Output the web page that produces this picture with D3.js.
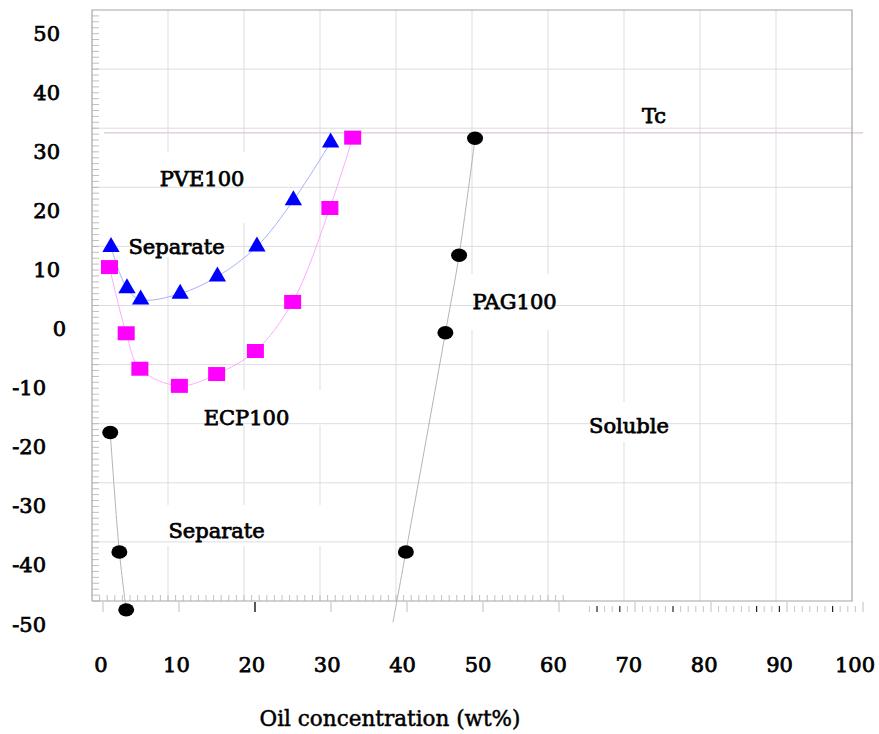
<!DOCTYPE html>
<html>
<head>
<meta charset="utf-8">
<script src="https://cdn.jsdelivr.net/npm/d3@7"></script>
<style>
  html, body { margin: 0; padding: 0; background: #fff; }
  svg { display: block; }
  text { font-family: "DejaVu Serif", serif; fill: #000; }
</style>
</head>
<body>
<svg id="chart" width="879" height="734"></svg>
<script>
// Phase-separation temperatures of refrigerant / oil mixtures
const xTicks = [0, 10, 20, 30, 40, 50, 60, 70, 80, 90, 100];
const yTicks = [50, 40, 30, 20, 10, 0, -10, -20, -30, -40, -50];

// PVE100 (triangles)
const pveX = [2.5, 4.6, 6.4, 11.6, 16.5, 21.7, 26.5, 31.4];
const pveY = [9.9, 2.9, 1.0, 2.0, 4.9, 10.0, 17.8, 27.6];

// ECP100 (squares, upper boundary)
const ecpX = [2.3, 4.5, 6.3, 11.5, 16.4, 21.5, 26.4, 31.3, 34.3];
const ecpY = [6.5, -4.7, -10.7, -13.6, -11.6, -7.7, 0.6, 16.5, 28.4];

// lower boundary, black circles near the left edge
const lowX = [2.4, 3.6, 4.5];
const lowY = [-21.5, -41.7, -51.5];

// PAG100 (black circles) and the end of its boundary line
const pagX = [50.4, 48.3, 46.5, 41.3];
const pagY = [28.3, 8.5, -4.6, -41.7];
const pagTailX = [39.6];
const pagTailY = [-53.6];

// critical temperature line
const tcValue = 29.2;

const svg = d3.select("#chart");
const x = d3.scaleLinear().domain([0, 100]).range([92, 852]);
const y = d3.scaleLinear().domain([-50, 50]).range([601, 10]);
// tick labels sit slightly right of / below their grid lines
const xLab = d3.scaleLinear().domain([0, 100]).range([101, 855]);

const gridColor = "#dddddd";
const frameColor = "#a6a6a6";

// vertical grid lines
svg.append("g").selectAll("line")
  .data(xTicks.slice(1, -1))
  .join("line")
  .attr("x1", d => x(d)).attr("x2", d => x(d))
  .attr("y1", y(50)).attr("y2", y(-50))
  .attr("stroke", gridColor).attr("stroke-width", 1);

// white label boxes interrupt the vertical grid lines
const boxes = [
  [150, 152, 105, 71],   // PVE100
  [120, 223, 120, 34],   // Separate (upper)
  [190, 390, 145, 35],   // ECP100
  [150, 505, 190, 41],   // Separate (lower)
  [462, 274, 130, 56],   // PAG100
  [580, 402, 100, 40]    // Soluble
];
svg.append("g").selectAll("rect")
  .data(boxes)
  .join("rect")
  .attr("x", d => d[0]).attr("y", d => d[1])
  .attr("width", d => d[2]).attr("height", d => d[3])
  .attr("fill", "#fff");

// horizontal grid lines
svg.append("g").selectAll("line")
  .data(yTicks.slice(1, -1))
  .join("line")
  .attr("x1", x(0)).attr("x2", x(100))
  .attr("y1", d => y(d)).attr("y2", d => y(d))
  .attr("stroke", gridColor).attr("stroke-width", 1);

// Tc line
svg.append("line")
  .attr("x1", x(0) + 12).attr("x2", x(100) + 11)
  .attr("y1", y(tcValue)).attr("y2", y(tcValue))
  .attr("stroke", "#dcc6dc").attr("stroke-width", 1.2);

// frame
svg.append("path")
  .attr("d", `M${x(0)},${y(-50)}V${y(50)}H${x(100)}V${y(-50)}H${x(0)}`)
  .attr("fill", "none").attr("stroke", frameColor).attr("stroke-width", 1.2);

// minor ticks on the left edge (every 1 degree, pointing inward)
const yMinor = d3.range(-50, 50, 1);
svg.append("g").selectAll("line")
  .data(yMinor)
  .join("line")
  .attr("x1", x(0)).attr("x2", x(0) + 7)
  .attr("y1", d => y(d)).attr("y2", d => y(d))
  .attr("stroke", "#b0b0b0").attr("stroke-width", 0.8);

// minor ticks on the bottom edge: upward on the left part, below the edge on the right part
const xMinorUp = d3.range(1, 63, 1);
svg.append("g").selectAll("line")
  .data(xMinorUp)
  .join("line")
  .attr("x1", d => x(d)).attr("x2", d => x(d))
  .attr("y1", y(-50)).attr("y2", y(-50) - 6)
  .attr("stroke", "#b0b0b0").attr("stroke-width", 0.8);

const darkMinor = [65, 68, 75, 86, 89, 96];
const xMinorDown = d3.range(64, 101, 1).filter(d => d % 10 !== 0);
svg.append("g").selectAll("line")
  .data(xMinorDown)
  .join("line")
  .attr("x1", d => x(d) + 11).attr("x2", d => x(d) + 11)
  .attr("y1", y(-50) + 5).attr("y2", y(-50) + 11)
  .attr("stroke", d => darkMinor.includes(d) ? "#222" : "#b8b8b8")
  .attr("stroke-width", d => darkMinor.includes(d) ? 1.2 : 0.8);

// major ticks below the bottom edge
svg.append("g").selectAll("line")
  .data(xTicks)
  .join("line")
  .attr("x1", d => x(d) + 11).attr("x2", d => x(d) + 11)
  .attr("y1", y(-50) + 1).attr("y2", y(-50) + 11)
  .attr("stroke", d => d === 20 ? "#000" : "#c0c0c0")
  .attr("stroke-width", d => d === 20 ? 1.3 : 1);

// tick labels
const labelStyle = sel => sel
  .attr("font-size", 21)
  .attr("stroke", "#000").attr("stroke-width", 0.75);

svg.append("g").selectAll("text")
  .data(yTicks)
  .join("text")
  .attr("x", d => d < 0 ? 46 : (d === 0 ? 66 : 60))
  .attr("y", d => y(d) + 30.5)
  .attr("text-anchor", "end")
  .text(d => d)
  .call(labelStyle);

svg.append("g").selectAll("text")
  .data(xTicks)
  .join("text")
  .attr("x", d => xLab(d))
  .attr("y", 672)
  .attr("text-anchor", "middle")
  .text(d => d)
  .call(labelStyle);

// axis title
svg.append("text")
  .attr("x", 390).attr("y", 726)
  .attr("text-anchor", "middle")
  .attr("font-size", 21.5)
  .attr("stroke", "#000").attr("stroke-width", 0.5)
  .text("Oil concentration (wt%)");

// boundary curves
const line = d3.line().x(d => x(d[0])).y(d => y(d[1])).curve(d3.curveCatmullRom.alpha(0.5));

svg.append("path")
  .attr("d", line(d3.zip(pveX, pveY)))
  .attr("fill", "none").attr("stroke", "#aab0ff").attr("stroke-width", 1);

svg.append("path")
  .attr("d", line(d3.zip(ecpX, ecpY)))
  .attr("fill", "none").attr("stroke", "#ffaaff").attr("stroke-width", 1);

svg.append("path")
  .attr("d", line(d3.zip(lowX, lowY)))
  .attr("fill", "none").attr("stroke", "#b4b4b4").attr("stroke-width", 1);

svg.append("path")
  .attr("d", line(d3.zip(pagX.concat(pagTailX), pagY.concat(pagTailY))))
  .attr("fill", "none").attr("stroke", "#b4b4b4").attr("stroke-width", 1);

// markers
svg.append("g").selectAll("path")
  .data(d3.zip(pveX, pveY))
  .join("path")
  .attr("transform", d => `translate(${x(d[0])},${y(d[1])})`)
  .attr("d", d3.symbol(d3.symbolTriangle, 130)())
  .attr("fill", "#0000ff");

svg.append("g").selectAll("rect")
  .data(d3.zip(ecpX, ecpY))
  .join("rect")
  .attr("x", d => x(d[0]) - 8.5).attr("y", d => y(d[1]) - 7)
  .attr("width", 17).attr("height", 14)
  .attr("fill", "#ff00ff");

svg.append("g").selectAll("ellipse")
  .data(d3.zip(lowX, lowY).concat(d3.zip(pagX, pagY)))
  .join("ellipse")
  .attr("cx", d => x(d[0])).attr("cy", d => y(d[1]))
  .attr("rx", 8).attr("ry", 6.7)
  .attr("fill", "#000");

// region / series annotations
const notes = [
  ["Tc", 654, 123],
  ["PVE100", 202, 186],
  ["Separate", 176.5, 254],
  ["ECP100", 246.5, 425],
  ["Separate", 216.5, 538],
  ["PAG100", 514.5, 309],
  ["Soluble", 629, 433]
];
svg.append("g").selectAll("text")
  .data(notes)
  .join("text")
  .attr("x", d => d[1]).attr("y", d => d[2])
  .attr("text-anchor", "middle")
  .text(d => d[0])
  .call(labelStyle);
</script>
</body>
</html>
